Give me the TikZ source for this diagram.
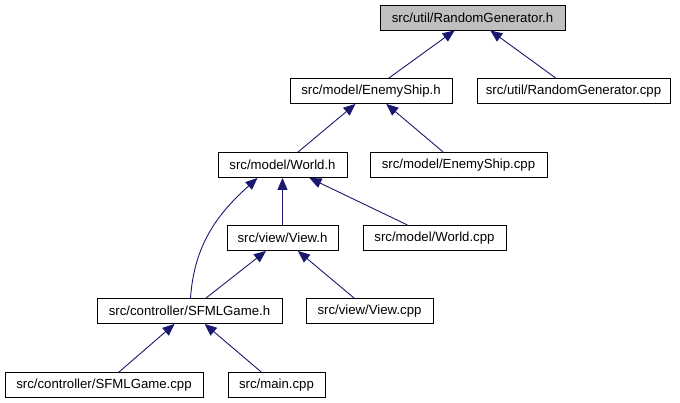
\documentclass[tikz,border=0pt]{standalone}
\usepackage{fontspec}
\setmainfont{Liberation Sans}
\usetikzlibrary{arrows.meta}
\definecolor{edgecol}{RGB}{25,25,112}
\definecolor{rootfill}{RGB}{191,191,191}
\begin{document}
\begin{tikzpicture}[x=1pt,y=-1pt,
  box/.style={draw=black,line width=0.9pt,fill=white,minimum height=25pt,inner sep=0pt,
    font=\fontsize{13.2}{15}\selectfont},
  edge/.style={draw=edgecol,line width=0.9pt,-{Triangle[length=12pt,width=10pt]}}]
\useasboundingbox (0,0) rectangle (680,403);
\node[box,fill=rootfill,minimum width=185pt] (rgh) at (472.5,17.5) {src/util/RandomGenerator.h};
\node[box,minimum width=162pt] (esh) at (371,91) {src/model/EnemyShip.h};
\node[box,minimum width=193pt] (rgcpp) at (573.5,91) {src/util/RandomGenerator.cpp};
\node[box,minimum width=129pt] (wh) at (282.5,165) {src/model/World.h};
\node[box,minimum width=177pt] (escpp) at (458.5,165) {src/model/EnemyShip.cpp};
\node[box,minimum width=111pt] (vh) at (282.5,238) {src/view/View.h};
\node[box,minimum width=143pt] (wcpp) at (434.5,238) {src/model/World.cpp};
\node[box,minimum width=185pt] (sfh) at (189.5,311) {src/controller/SFMLGame.h};
\node[box,minimum width=127pt] (vcpp) at (369.5,311) {src/view/View.cpp};
\node[box,minimum width=198pt] (sfcpp) at (104,385) {src/controller/SFMLGame.cpp};
\node[box,minimum width=97pt] (main) at (276.5,385) {src/main.cpp};
\draw[edge] (esh) -- (rgh);
\draw[edge] (rgcpp) -- (rgh);
\draw[edge] (wh) -- (esh);
\draw[edge] (escpp) -- (esh);
\draw[edge] (vh) -- (wh);
\draw[edge] (wcpp) -- (wh);
\draw[edge] ([xshift=1pt]sfh.north) to[out=86,in=-138] ([xshift=-25pt]wh.south);
\draw[edge] (sfh) -- (vh);
\draw[edge] (vcpp) -- (vh);
\draw[edge] (sfcpp) -- (sfh);
\draw[edge] (main) -- (sfh);
\end{tikzpicture}
\end{document}
